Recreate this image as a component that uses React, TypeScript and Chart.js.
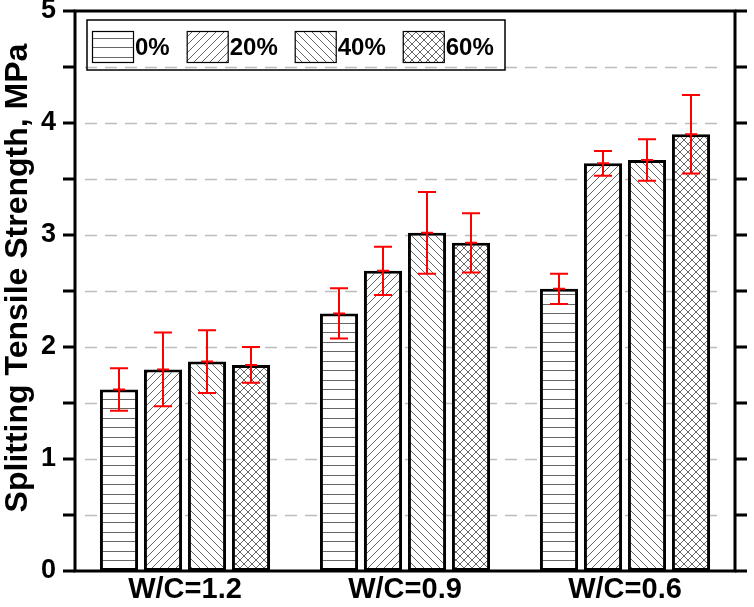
import { useEffect, useRef } from "react";
import { Chart, registerables } from "chart.js";

Chart.register(...registerables);

// Mix-ratio groups on the x axis and replacement levels as series
const categories = ["W/C=1.2", "W/C=0.9", "W/C=0.6"];
const seriesLabels = ["0%", "20%", "40%", "60%"];

// Mean splitting tensile strength (MPa)
const strength0 = [1.62, 2.3, 2.52];
const strength20 = [1.8, 2.68, 3.64];
const strength40 = [1.87, 3.02, 3.67];
const strength60 = [1.84, 2.93, 3.9];

// Standard deviation (MPa), drawn as symmetric error bars
const error0 = [0.19, 0.225, 0.135];
const error20 = [0.33, 0.215, 0.11];
const error40 = [0.28, 0.365, 0.185];
const error60 = [0.16, 0.265, 0.35];

const yMin = 0;
const yMax = 5;
const yStep = 0.5;

const FONT = '"Liberation Sans", Arial, Helvetica, sans-serif';

type PatternKind = "horizontal" | "forward" | "backward" | "cross";
const patternKinds: PatternKind[] = ["horizontal", "forward", "backward", "cross"];

function makePattern(kind: PatternKind): CanvasPattern | string {
  const tile = document.createElement("canvas");
  const size = kind === "horizontal" ? 19 : 8;
  tile.width = kind === "horizontal" ? 10 : size;
  tile.height = size;
  const c = tile.getContext("2d");
  if (!c) return "#fff";
  c.fillStyle = "#fff";
  c.fillRect(0, 0, tile.width, tile.height);
  c.strokeStyle = "#666";
  c.lineWidth = 1;
  c.beginPath();
  if (kind === "horizontal") {
    c.moveTo(0, 0.5);
    c.lineTo(10, 0.5);
    c.moveTo(0, 9.5);
    c.lineTo(10, 9.5);
  }
  if (kind === "forward" || kind === "cross") {
    for (let k = -1; k <= 1; k++) {
      c.moveTo(k * size, size);
      c.lineTo(k * size + size, 0);
    }
  }
  if (kind === "backward" || kind === "cross") {
    for (let k = -1; k <= 1; k++) {
      c.moveTo(k * size, 0);
      c.lineTo(k * size + size, size);
    }
  }
  c.stroke();
  return c.createPattern(tile, "repeat") || "#fff";
}

const values = [strength0, strength20, strength40, strength60];
const errors = [error0, error20, error40, error60];

// Dashed gridlines behind the bars
const gridPlugin = {
  id: "dashedGrid",
  beforeDatasetsDraw(chart: any) {
    const { ctx, chartArea } = chart;
    const y = chart.scales.y;
    ctx.save();
    ctx.strokeStyle = "#bdbdbd";
    ctx.lineWidth = 1.5;
    ctx.setLineDash([12, 8]);
    for (let v = yMin + yStep; v < yMax - 1e-6; v += yStep) {
      const py = Math.round(y.getPixelForValue(v)) + 0.5;
      ctx.beginPath();
      ctx.moveTo(chartArea.left + 10, py);
      ctx.lineTo(chartArea.right - 10, py);
      ctx.stroke();
    }
    ctx.restore();
  },
};

// Error bars, frame, tick marks, y title and the boxed legend
const overlayPlugin = {
  id: "overlay",
  afterDatasetsDraw(chart: any) {
    const { ctx } = chart;
    const y = chart.scales.y;
    ctx.save();
    ctx.strokeStyle = "#ff0000";
    ctx.lineWidth = 2;
    values.forEach((series, di) => {
      const meta = chart.getDatasetMeta(di);
      series.forEach((v, i) => {
        const bar = meta.data[i];
        const x = bar.x;
        const top = y.getPixelForValue(v + errors[di][i]);
        const bot = y.getPixelForValue(v - errors[di][i]);
        const mid = y.getPixelForValue(v);
        ctx.beginPath();
        ctx.moveTo(x, top);
        ctx.lineTo(x, bot);
        ctx.moveTo(x - 9, top);
        ctx.lineTo(x + 9, top);
        ctx.moveTo(x - 9, bot);
        ctx.lineTo(x + 9, bot);
        ctx.moveTo(x - 6, mid);
        ctx.lineTo(x + 6, mid);
        ctx.stroke();
      });
    });
    ctx.restore();
  },
  afterDraw(chart: any) {
    const { ctx, chartArea } = chart;
    const y = chart.scales.y;
    const { left, right, top, bottom } = chartArea;
    ctx.save();
    // frame
    ctx.strokeStyle = "#000";
    ctx.lineWidth = 3;
    ctx.strokeRect(left, top, right - left, bottom - top);
    // tick marks on both vertical axes
    ctx.lineWidth = 3;
    ctx.beginPath();
    for (let v = yMin; v <= yMax + 1e-6; v += yStep) {
      const py = y.getPixelForValue(v);
      ctx.moveTo(left - 12, py);
      ctx.lineTo(left, py);
      ctx.moveTo(right, py);
      ctx.lineTo(right + 12, py);
    }
    ctx.stroke();

    // y axis title
    ctx.save();
    ctx.translate(18, 278);
    ctx.rotate(-Math.PI / 2);
    ctx.fillStyle = "#000";
    ctx.font = `bold 32px ${FONT}`;
    ctx.textAlign = "center";
    ctx.textBaseline = "middle";
    ctx.fillText("Splitting Tensile Strength, MPa", 0, 0);
    ctx.restore();

    // legend
    const boxL = left + 12;
    const boxT = top + 9;
    const boxR = left + 430;
    const boxB = top + 59;
    ctx.lineWidth = 1.5;
    ctx.strokeStyle = "#000";
    ctx.strokeRect(boxL, boxT, boxR - boxL, boxB - boxT);
    ctx.font = `bold 24px ${FONT}`;
    ctx.textBaseline = "middle";
    ctx.textAlign = "left";
    let x = boxL + 5;
    const sw = 42;
    const sh = 32;
    const sy = boxT + 11;
    chart.data.datasets.forEach((ds: any) => {
      ctx.fillStyle = ds.backgroundColor;
      ctx.fillRect(x, sy, sw, sh);
      ctx.lineWidth = 1.2;
      ctx.strokeStyle = "#000";
      ctx.strokeRect(x + 0.5, sy + 0.5, sw - 1, sh - 1);
      ctx.fillStyle = "#000";
      ctx.fillText(ds.label, x + sw + 1, sy + sh / 2 + 1);
      x += sw + 1 + ctx.measureText(ds.label).width + 17;
    });
    ctx.restore();
  },
};

export default function App() {
  const canvasRef = useRef<HTMLCanvasElement | null>(null);

  useEffect(() => {
    const canvas = canvasRef.current;
    if (!canvas) return;
    const chart = new Chart(canvas, {
      type: "bar",
      data: {
        labels: categories,
        datasets: seriesLabels.map((label, i) => ({
          label,
          data: values[i],
          backgroundColor: makePattern(patternKinds[i]) as any,
          borderColor: "#000",
          borderWidth: 3,
          borderSkipped: false,
          categoryPercentage: 0.8,
          barPercentage: 0.866,
        })),
      },
      options: {
        responsive: false,
        animation: false,
        layout: { padding: { top: 11, right: 19, left: 0, bottom: 0 } },
        plugins: {
          legend: { display: false },
          tooltip: { enabled: false },
        },
        scales: {
          x: {
            grid: { display: false, drawTicks: false },
            border: { display: false },
            ticks: {
              color: "#000",
              padding: 2,
              font: { family: FONT, size: 29, weight: "bold" },
            },
            afterFit: (scale: any) => {
              scale.height = 36;
              scale.paddingLeft = 0;
              scale.paddingRight = 0;
            },
          },
          y: {
            min: yMin,
            max: yMax,
            grid: { display: false, drawTicks: false },
            border: { display: false },
            ticks: {
              stepSize: yStep,
              color: "#000",
              padding: 19,
              font: { family: FONT, size: 27, weight: "bold" },
              callback: (v: any) => (Number(v) % 1 === 0 ? String(v) : ""),
            },
            afterFit: (scale: any) => {
              scale.width = 75;
              scale.paddingTop = 0;
              scale.paddingBottom = 0;
            },
          },
        },
      },
      plugins: [gridPlugin, overlayPlugin],
    });
    return () => chart.destroy();
  }, []);

  return (
    <div style={{ position: "absolute", left: 0, top: 0, width: 754, height: 607, background: "#fff" }}>
      <canvas ref={canvasRef} width={754} height={607} style={{ display: "block" }} />
    </div>
  );
}
